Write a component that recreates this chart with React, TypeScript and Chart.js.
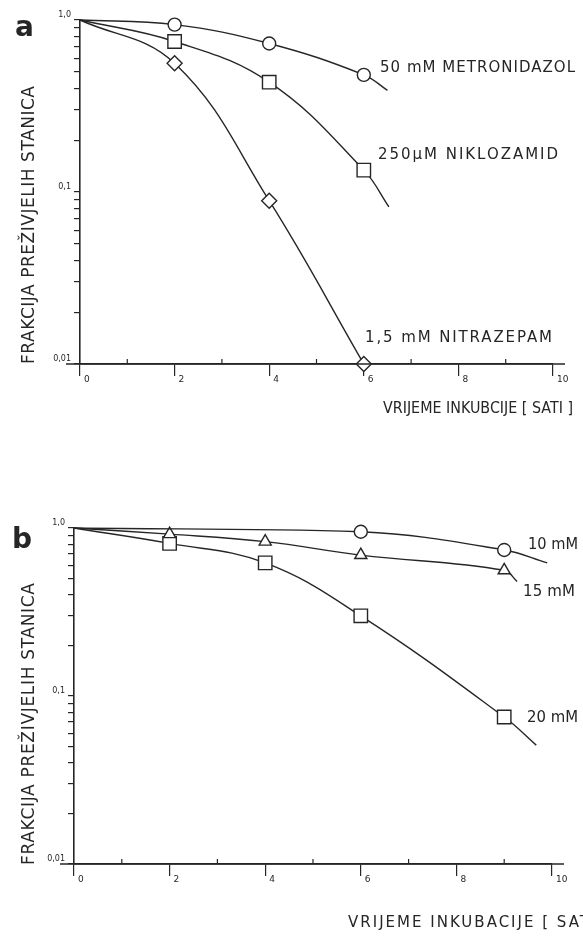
import React, { useEffect, useRef } from 'react';
import { Chart, registerables } from 'chart.js';

Chart.register(...registerables);

// ---------- Data: panel a ----------
const A_METRO_X = [0, 2, 4, 6, 6.5];
const A_METRO_Y = [1.0, 0.94, 0.73, 0.48, 0.39];
const A_METRO_MARK = [false, true, true, true, false];

const A_NIKLO_X = [0, 2, 4, 6, 6.53];
const A_NIKLO_Y = [1.0, 0.75, 0.435, 0.134, 0.082];
const A_NIKLO_MARK = [false, true, true, true, false];

const A_NITRA_X = [0, 2, 4, 6];
const A_NITRA_Y = [1.0, 0.56, 0.089, 0.01];
const A_NITRA_MARK = [false, true, true, true];

// ---------- Data: panel b ----------
const B_10_X = [0, 6, 9, 9.9];
const B_10_Y = [1.0, 0.95, 0.74, 0.62];
const B_10_MARK = [false, true, true, false];

const B_15_X = [0, 2, 4, 6, 9, 9.27];
const B_15_Y = [1.0, 0.92, 0.83, 0.69, 0.56, 0.48];
const B_15_MARK = [false, true, true, true, true, false];

const B_20_X = [0, 2, 4, 6, 9, 9.67];
const B_20_Y = [1.0, 0.81, 0.62, 0.30, 0.075, 0.051];
const B_20_MARK = [false, true, true, true, true, false];

// ---------- Ticks ----------
const X_TICKS = [0, 1, 2, 3, 4, 5, 6, 7, 8, 9, 10];
const X_LABELED = [0, 2, 4, 6, 8, 10];
const Y_TICKS = [
  0.01, 0.02, 0.03, 0.04, 0.05, 0.06, 0.07, 0.08, 0.09,
  0.1, 0.2, 0.3, 0.4, 0.5, 0.6, 0.7, 0.8, 0.9, 1.0,
];
const Y_MAJOR = [0.01, 0.1, 1.0];
const Y_MAJOR_LABELS = ['0,01', '0,1', '1,0'];

const Y_TITLE = 'FRAKCIJA PREŽIVJELIH STANICA';

const INK = '#262626';
const FONT = '"DejaVu Sans", "Liberation Sans", sans-serif';
const W = 583;
const H = 469;

type TextItem = {
  text: string;
  x: number;
  y: number;
  w?: number;
  size: number;
  weight?: string;
  rotate?: number;
  baseline?: CanvasTextBaseline;
};

function drawFitText(ctx: CanvasRenderingContext2D, t: TextItem) {
  ctx.save();
  ctx.font = `${t.weight || 'normal'} ${t.size}px ${FONT}`;
  ctx.fillStyle = INK;
  ctx.textBaseline = t.baseline || 'middle';
  ctx.textAlign = 'left';
  ctx.translate(t.x, t.y);
  if (t.rotate) ctx.rotate(t.rotate);
  if (t.w) {
    const m = ctx.measureText(t.text).width;
    const n = t.text.length;
    if (m < t.w && n > 1) {
      (ctx as any).letterSpacing = `${(t.w - m) / (n - 1)}px`;
    } else if (m > t.w) {
      ctx.scale(t.w / m, 1);
    }
  }
  ctx.fillText(t.text, 0, 0);
  ctx.restore();
}

function series(xs: number[], ys: number[], marks: boolean[], style: string, radius: number) {
  return {
    data: xs.map((x, i) => ({ x, y: ys[i] })),
    borderColor: INK,
    borderWidth: 1.4,
    pointStyle: style,
    pointRadius: marks.map((m) => (m ? radius : 0)),
    pointHoverRadius: marks.map((m) => (m ? radius : 0)),
    pointBackgroundColor: '#ffffff',
    pointBorderColor: INK,
    pointBorderWidth: 1.4,
    tension: 0.4,
    clip: false,
    fill: false,
  };
}

type PanelSpec = {
  top: number;
  area: { left: number; right: number; top: number; bottom: number };
  datasets: any[];
  texts: TextItem[];
};

function yLabel(v: number) {
  const i = Y_MAJOR.findIndex((m) => Math.abs(m - v) < 1e-9);
  return i >= 0 ? Y_MAJOR_LABELS[i] : '';
}

function Panel({ spec }: { spec: PanelSpec }) {
  const ref = useRef<HTMLCanvasElement>(null);
  useEffect(() => {
    const { area } = spec;
    const decor = {
      id: 'decor',
      afterDraw(chart: any) {
        const { ctx } = chart;
        const x = chart.scales.x;
        const y = chart.scales.y;
        ctx.save();
        ctx.strokeStyle = INK;
        ctx.lineWidth = 1.2;
        X_TICKS.filter((v) => !X_LABELED.includes(v)).forEach((v) => {
          const px = x.getPixelForValue(v);
          ctx.beginPath();
          ctx.moveTo(px, y.bottom);
          ctx.lineTo(px, y.bottom - 5);
          ctx.stroke();
        });
        ctx.lineWidth = 1.6;
        ctx.beginPath();
        ctx.moveTo(x.left - 14, y.bottom);
        ctx.lineTo(x.right + 12, y.bottom);
        ctx.stroke();
        ctx.restore();
        spec.texts.forEach((t) => drawFitText(ctx, t));
      },
    };
    const chart = new Chart(ref.current as HTMLCanvasElement, {
      type: 'line',
      data: { datasets: spec.datasets },
      plugins: [decor],
      options: {
        animation: false,
        responsive: false,
        events: [],
        layout: { padding: { top: area.top, right: W - area.right, left: 0, bottom: 0 } },
        plugins: { legend: { display: false }, tooltip: { enabled: false } },
        scales: {
          x: {
            type: 'linear',
            min: 0,
            max: 10,
            afterBuildTicks: (s: any) => {
              s.ticks = X_TICKS.map((v) => ({ value: v }));
            },
            afterFit: (s: any) => {
              s.height = H - area.bottom;
            },
            grid: {
              drawOnChartArea: false,
              drawTicks: true,
              tickLength: 12,
              lineWidth: 1.2,
              color: (c: any) =>
                c.tick && X_LABELED.includes(c.tick.value) ? INK : 'rgba(0,0,0,0)',
            },
            border: { color: INK, width: 1.6 },
            ticks: {
              autoSkip: false,
              maxRotation: 0,
              align: 'start',
              labelOffset: 4,
              padding: -2,
              color: INK,
              font: { size: 9, family: FONT },
              callback: (v: any) => (X_LABELED.includes(Number(v)) ? String(v) : ''),
            },
          },
          y: {
            type: 'logarithmic',
            min: 0.01,
            max: 1,
            afterBuildTicks: (s: any) => {
              s.ticks = Y_TICKS.map((v) => ({ value: v }));
            },
            afterFit: (s: any) => {
              s.width = area.left;
            },
            grid: {
              drawOnChartArea: false,
              drawTicks: true,
              tickLength: 6,
              lineWidth: 1.2,
              color: INK,
            },
            border: { color: INK, width: 1.6 },
            ticks: {
              autoSkip: false,
              padding: 3,
              labelOffset: -5,
              color: INK,
              font: { size: 8, family: FONT },
              callback: (v: any) => yLabel(Number(v)),
            },
          },
        },
      } as any,
    });
    return () => chart.destroy();
  }, []);
  return (
    <div style={{ position: 'absolute', left: 0, top: spec.top, width: W, height: H }}>
      <canvas ref={ref} width={W} height={H} style={{ width: W, height: H, display: 'block' }} />
    </div>
  );
}

const PANEL_A: PanelSpec = {
  top: 0,
  area: { left: 80, right: 553, top: 20, bottom: 364 },
  datasets: [
    series(A_METRO_X, A_METRO_Y, A_METRO_MARK, 'circle', 6.5),
    series(A_NIKLO_X, A_NIKLO_Y, A_NIKLO_MARK, 'rect', 9.5),
    series(A_NITRA_X, A_NITRA_Y, A_NITRA_MARK, 'rectRot', 7.5),
  ],
  texts: [
    { text: 'a', x: 15, y: 36, size: 28, weight: 'bold', baseline: 'alphabetic' },
    { text: Y_TITLE, x: 30, y: 364, w: 278, size: 17, rotate: -Math.PI / 2 },
    { text: '50 mM METRONIDAZOL', x: 380, y: 68, w: 195, size: 15 },
    { text: '250µM NIKLOZAMID', x: 378, y: 155, w: 180, size: 15 },
    { text: '1,5 mM NITRAZEPAM', x: 365, y: 338, w: 187, size: 15 },
    { text: 'VRIJEME INKUBCIJE [ SATI ]', x: 383, y: 409, w: 190, size: 16 },
  ],
};

const PANEL_B: PanelSpec = {
  top: 469,
  area: { left: 74, right: 552, top: 59, bottom: 395 },
  datasets: [
    series(B_10_X, B_10_Y, B_10_MARK, 'circle', 6.5),
    series(B_15_X, B_15_Y, B_15_MARK, 'triangle', 7),
    series(B_20_X, B_20_Y, B_20_MARK, 'rect', 9.5),
  ],
  texts: [
    { text: 'b', x: 12, y: 79, size: 28, weight: 'bold', baseline: 'alphabetic' },
    { text: Y_TITLE, x: 30, y: 396, w: 282, size: 17, rotate: -Math.PI / 2 },
    { text: '10 mM', x: 528, y: 76, w: 50, size: 15 },
    { text: '15 mM', x: 523, y: 123, w: 52, size: 15 },
    { text: '20 mM', x: 527, y: 249, w: 51, size: 15 },
    { text: 'VRIJEME INKUBACIJE [ SATI ]', x: 348, y: 454, w: 262, size: 15 },
  ],
};

export default function App() {
  return (
    <div
      style={{
        position: 'fixed',
        left: 0,
        top: 0,
        width: W,
        height: 938,
        background: '#ffffff',
        overflow: 'hidden',
      }}
    >
      <Panel spec={PANEL_A} />
      <Panel spec={PANEL_B} />
    </div>
  );
}
